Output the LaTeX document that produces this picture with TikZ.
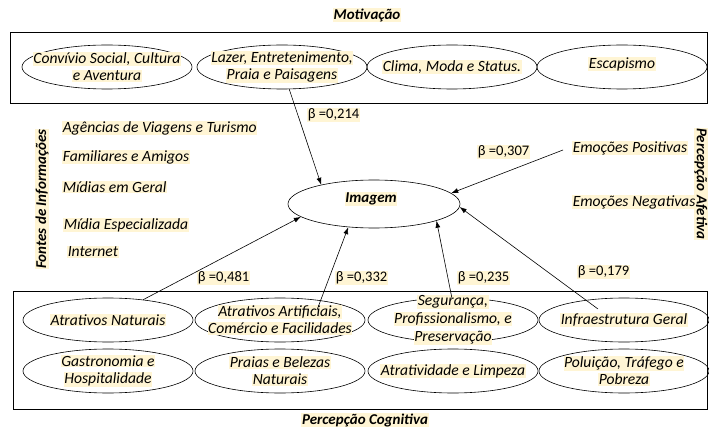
\documentclass[tikz,border=0pt]{standalone}
\usepackage{fontspec}
\setmainfont{Carlito}
\usetikzlibrary{shapes.geometric,arrows.meta,calc,positioning}
\definecolor{hl}{RGB}{255,245,212}
\newcommand{\hl}[1]{{\setlength{\fboxsep}{0.6pt}\colorbox{hl}{#1}}}

\begin{document}
\begin{tikzpicture}[x=1pt,y=-1pt,
  font=\itshape\fontsize{15.6}{17}\selectfont,
  fator/.style={ellipse,draw,line width=0.6pt,minimum width=170pt,minimum height=44pt,inner sep=0pt},
  item/.style={anchor=west,fill=hl,inner sep=0.6pt},
  coef/.style={anchor=west,font=\upshape\fontsize{14.6}{15}\selectfont,fill=hl,inner sep=0.6pt},
  titulo/.style={font=\bfseries\itshape\fontsize{15}{16}\selectfont,fill=hl,inner sep=0.6pt},
  seta/.style={-{Latex[length=7pt,width=5pt]},line width=0.6pt}]
\useasboundingbox (0,0) rectangle (709,430);

% Motivacao
\node[titulo] (motiv) at (367,15) {Motivação};
\draw[line width=0.6pt] (10,32) rectangle (707.5,103);
\node[fator,label={[align=center]center:{\hl{Convívio Social, Cultura}\\\hl{e Aventura}}}] (conv) at (107,67) {};
\node[fator,label={[align=center]center:{\hl{Lazer, Entretenimento,}\\\hl{Praia e Paisagens}}}] (lazer) at (282,67) {};
\node[fator,label={[align=center]center:\hl{Clima, Moda e Status.}}] (clima) at (452,67) {};
\node[fator,label={[align=center,yshift=3pt]center:\hl{Escapismo}}] (escap) at (622,67) {};

% Fontes de informacoes
\node[titulo,rotate=90] (fontes) at (42,199) {Fontes de Informações};
\node[item] (agen) at (62,128) {Agências de Viagens e Turismo};
\node[item] (famil) at (62,157) {Familiares e Amigos};
\node[item] (midia) at (62,187) {Mídias em Geral};
\node[item] (espec) at (63,225) {Mídia Especializada};
\node[item] (inter) at (67,252) {Internet};

% Percepcao afetiva
\node[titulo,rotate=-90] (afetiva) at (701,184) {Percepção Afetiva};
\node[item] (emopos) at (572,148) {Emoções Positivas};
\node[item] (emoneg) at (572,202) {Emoções Negativas};

% Imagem
\node[ellipse,draw,line width=0.6pt,minimum width=172pt,minimum height=48pt,inner sep=0pt,
  label={[titulo,xshift=-3pt,yshift=5pt]center:Imagem}] (img) at (374,204) {};

% Percepcao cognitiva
\draw[line width=0.6pt] (13,291) rectangle (707.5,409);
\node[titulo] (cogn) at (365,420) {Percepção Cognitiva};
\node[fator,label={[align=center]center:\hl{Atrativos Naturais}}] (natur) at (108,320) {};
\node[fator,label={[align=center]center:{\hl{Atrativos Artificiais,}\\\hl{Comércio e Facilidades}}}] (artif) at (280,320) {};
\node[fator,label={[align=center,font=\itshape\fontsize{15.6}{18}\selectfont]center:{\hl{Segurança,}\\\hl{Profissionalismo, e}\\\hl{Preservação}}}] (seg) at (453,320) {};
\node[fator,label={[align=center]center:\hl{Infraestrutura Geral}}] (infra) at (624,320) {};
\node[fator,label={[align=center]center:{\hl{Gastronomia e}\\\hl{Hospitalidade}}}] (gastro) at (108,371) {};
\node[fator,label={[align=center]center:{\hl{Praias e Belezas}\\\hl{Naturais}}}] (praias) at (280,371) {};
\node[fator,label={[align=center]center:\hl{Atratividade e Limpeza}}] (atrat) at (453,371) {};
\node[fator,label={[align=center]center:{\hl{Poluição, Tráfego e}\\\hl{Pobreza}}}] (polu) at (624,371) {};

% coeficientes
\node[coef] (b214) at (307,115) {β =0,214};
\node[coef] (b307) at (477,152) {β =0,307};
\node[coef] (b481) at (197,278) {β =0,481};
\node[coef] (b332) at (335,278) {β =0,332};
\node[coef] (b235) at (457,278) {β =0,235};
\node[coef] (b179) at (577,272) {β =0,179};

% setas
\draw[seta] (lazer.-72) -- (img.160);
\draw[seta] ([xshift=-9pt,yshift=-2pt]emopos.west) -- (img.8);
\draw[seta] (natur.30) -- (img.190);
\draw[seta] ($(artif.center)+(37,-10)$) -- (img.222);
\draw[seta] (seg.93) -- (img.-15);
\draw[seta] ($(infra.center)+(-26,-11)$) -- (img.-2);
\end{tikzpicture}
\end{document}
